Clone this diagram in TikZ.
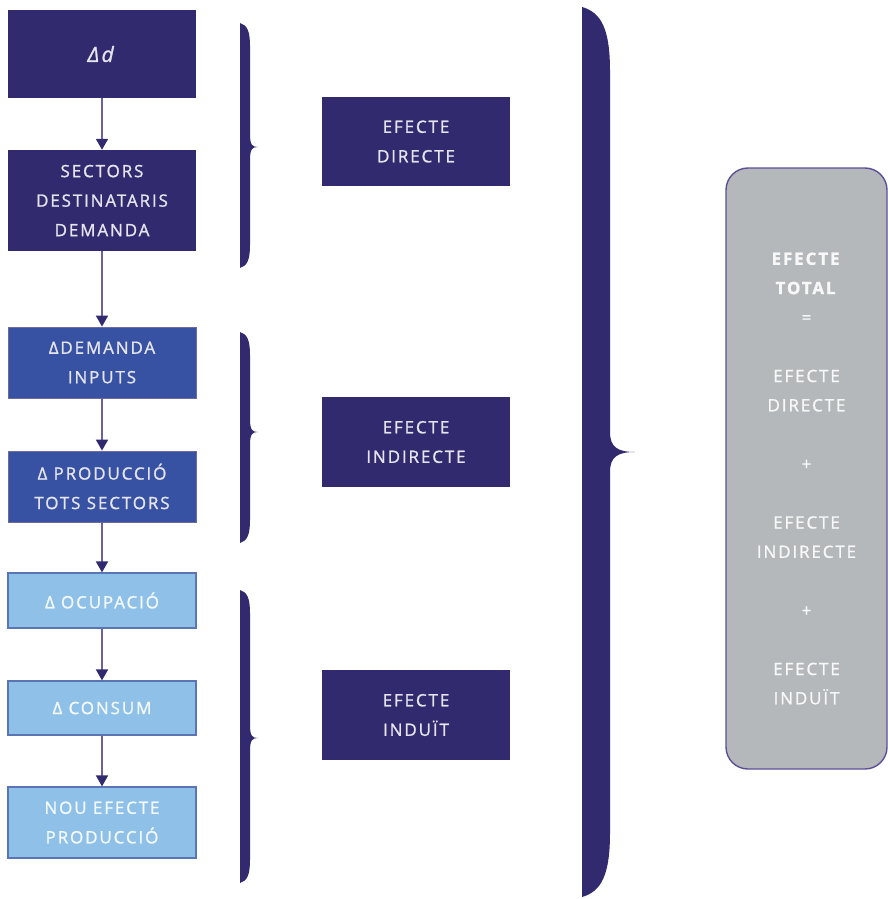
\documentclass[tikz,border=0pt]{standalone}
\usepackage{fontspec}
\setmainfont{Open Sans}[LetterSpace=11,FakeBold=1.2]
\usetikzlibrary{arrows.meta,positioning}
\definecolor{navy}{HTML}{312A6E}
\definecolor{midblue}{HTML}{3752A3}
\definecolor{lightblue}{HTML}{8EC0E8}
\definecolor{lbedge}{HTML}{5A74B4}
\definecolor{linecol}{HTML}{6A62A0}
\definecolor{totgray}{HTML}{B5B8BB}
\definecolor{totedge}{HTML}{5B4F98}
\tikzset{>={Triangle[width=12pt,length=11pt,color=navy]}}

\begin{document}
\begin{tikzpicture}[x=1pt,y=-1pt]

  \useasboundingbox (0,0) rectangle (888,899);

  \tikzset{
    box/.style={rectangle, minimum width=188pt, text=white!88!navy,
      align=center, font=\fontsize{17}{29.5}\selectfont},
    darkbox/.style={box, fill=navy},
    bluebox/.style={box, fill=midblue, draw=navy!70, line width=0.8pt},
    lightbox/.style={box, fill=lightblue, draw=lbedge, line width=1.2pt, text=white!90!lightblue},
    flow/.style={->, draw=linecol, line width=1.8pt}
  }

  % brace: x, top, tip, bottom, thickness, tip width
  \newcommand\brc[6]{%
    \fill[navy] (#1,#2) .. controls (#1+0.7*#5,#2+0.2*#5) and (#1+#5,#2+0.8*#5) .. (#1+#5,#2+2.3*#5)
      -- (#1+#5,#3-10-0.4*#6) .. controls (#1+#5,#3-0.2*#6) and (#1+#5+0.3*#6,#3) .. (#1+#5+#6,#3)
      .. controls (#1+#5+0.3*#6,#3) and (#1+#5,#3+0.2*#6) .. (#1+#5,#3+10+0.4*#6)
      -- (#1+#5,#4-2.3*#5) .. controls (#1+#5,#4-0.8*#5) and (#1+0.7*#5,#4-0.2*#5) .. (#1,#4) -- cycle;}

  % left column
  \node[darkbox, minimum height=88pt] (d) at (102,54) {\fontsize{21}{25}\selectfont\textit{Δd}};
  \node[darkbox, minimum height=101pt] (sectors) at (102,200.5) {SECTORS\\DESTINATARIS\\DEMANDA};
  \node[bluebox, minimum height=71pt] (deminp) at (102,362.5) {ΔDEMANDA\\INPUTS};
  \node[bluebox, minimum height=71pt] (prodtot) at (102,486.5) {Δ PRODUCCIÓ\\TOTS SECTORS};
  \node[lightbox, minimum height=55pt] (ocup) at (102,600.5) {Δ OCUPACIÓ};
  \node[lightbox, minimum height=54pt] (consum) at (102,708) {Δ CONSUM};
  \node[lightbox, minimum height=71pt] (nouef) at (102,822.5) {NOU EFECTE\\PRODUCCIÓ};

  \draw[flow] (d) -- (sectors);
  \draw[flow] (sectors) -- (deminp);
  \draw[flow] (deminp) -- (prodtot);
  \draw[flow] (prodtot) -- (ocup);
  \draw[flow] (ocup) -- (consum);
  \draw[flow] (consum) -- (nouef);

  % braces
  \brc{240}{23}{147}{268}{10}{8}
  \brc{240}{332}{432}{543}{10}{8}
  \brc{240}{590}{738}{883}{10}{8}
  \brc{582}{7}{452}{897}{28}{25}

  % effects
  \node[darkbox, minimum height=89pt] (efdir) at (416,141.5) {EFECTE\\DIRECTE};
  \node[darkbox, minimum height=90pt] (efind) at (416,442) {EFECTE\\INDIRECTE};
  \node[darkbox, minimum height=90pt] (efinduit) at (416,715) {EFECTE\\INDUÏT};

  % total
  \node[rectangle, rounded corners=22pt, fill=totgray, draw=totedge, line width=1.4pt,
    minimum width=161pt, minimum height=601pt] (total) at (806.5,468.5) {};
  \node[align=center, text=white!90!totgray, font=\fontsize{17}{29.3}\selectfont]
    (totlbl) at ([yshift=-10pt]total.center)
    {\textbf{EFECTE}\\\textbf{TOTAL}\\=\\[29.3pt]EFECTE\\DIRECTE\\[29.3pt]+\\[29.3pt]EFECTE\\INDIRECTE\\[29.3pt]+\\[29.3pt]EFECTE\\INDUÏT};

\end{tikzpicture}
\end{document}
